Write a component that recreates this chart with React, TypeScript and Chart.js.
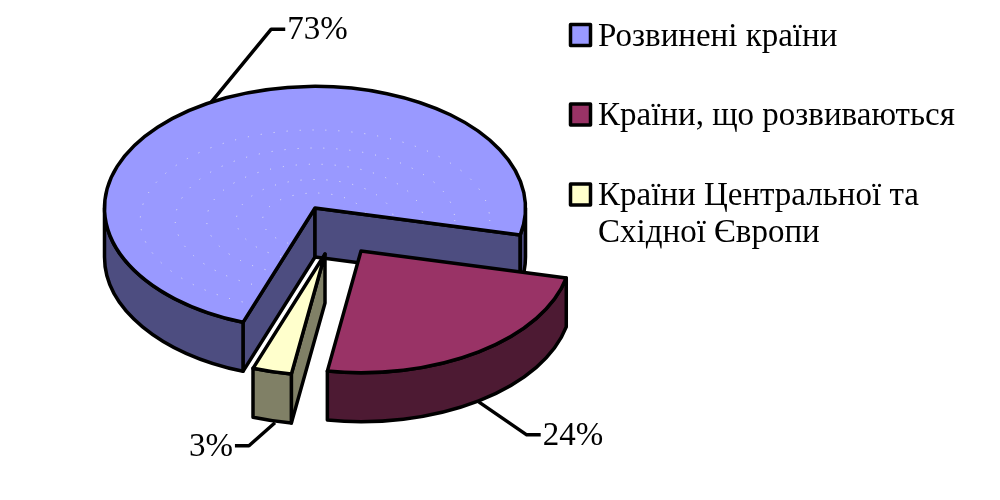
import React, { useEffect, useRef } from "react";
import { Chart, registerables } from "chart.js";

Chart.register(...registerables);

const categories = ["Розвинені країни", "Країни, що розвиваються", "Країни Центральної та Східної Європи"];
const legendLines = [["Розвинені країни"], ["Країни, що розвиваються"], ["Країни Центральної та", "Східної Європи"]];
const shares = [73, 24, 3];
const topColors = ["#9999FF", "#993366", "#FFFFCC"];
const wallColors = ["#4D4D80", "#4D1A33", "#808066"];

// Presentation of the tilted pie
const TILT = 0.578;
const DEPTH = 49;
const TOP_CY = 208;
const STROKE = 3.5;
const FONT = '33px "Liberation Serif"';
const explodeX = [0, 46, 10];
const explodeY = [0, 43, 46];
const anchorNudgeX = [-3, 0, 3];
const anchorNudgeY = [1, 1, 2];
const leaderDX = [60, 48, -26];
const leaderDY = [-73, 33, 23];
const leaderTail = [14, 14, -14];
const ringScale = [1, 0.8, 0.62, 0.45, 0.3];
const legendY = [45.5, 125, 205];

function drawPie(chart: any) {
  const ctx: CanvasRenderingContext2D = chart.ctx;
  const arcs = chart.getDatasetMeta(0).data;
  ctx.save();
  ctx.lineWidth = STROKE;
  ctx.lineJoin = "round";
  ctx.strokeStyle = "#000";

  const geo = (i: number) => {
    const a = arcs[i];
    return {
      x: a.x + explodeX[i],
      y: TOP_CY + explodeY[i],
      rx: a.outerRadius,
      ry: a.outerRadius * TILT,
      s: a.startAngle,
      e: a.endAngle,
    };
  };
  const paint = (fill: string) => {
    ctx.fillStyle = fill;
    ctx.fill();
    ctx.stroke();
  };
  const cutWall = (g: any, ang: number, fill: string) => {
    ctx.beginPath();
    ctx.moveTo(g.x, g.y);
    ctx.lineTo(g.x + g.rx * Math.cos(ang), g.y + g.ry * Math.sin(ang));
    ctx.lineTo(g.x + g.rx * Math.cos(ang), g.y + g.ry * Math.sin(ang) + DEPTH);
    ctx.lineTo(g.x, g.y + DEPTH);
    ctx.closePath();
    paint(fill);
  };

  for (const i of [0, 2, 1]) {
    const g = geo(i);
    // cut faces turned towards the viewer
    if (Math.sin(g.s - Math.PI / 2) > 0) cutWall(g, g.s, wallColors[i]);
    if (Math.sin(g.e + Math.PI / 2) > 0) cutWall(g, g.e, wallColors[i]);
    // outer rim on the front half of the ellipse
    for (let k = 0; k < 3; k++) {
      const a1 = Math.max(g.s, 2 * Math.PI * k);
      const a2 = Math.min(g.e, 2 * Math.PI * k + Math.PI);
      if (a2 <= a1) continue;
      ctx.beginPath();
      ctx.ellipse(g.x, g.y, g.rx, g.ry, 0, a1, a2);
      ctx.ellipse(g.x, g.y + DEPTH, g.rx, g.ry, 0, a2, a1, true);
      ctx.closePath();
      paint(wallColors[i]);
    }
    // top face
    const topPath = () => {
      ctx.beginPath();
      ctx.moveTo(g.x, g.y);
      ctx.ellipse(g.x, g.y, g.rx, g.ry, 0, g.s, g.e);
      ctx.closePath();
    };
    topPath();
    ctx.fillStyle = topColors[i];
    ctx.fill();
    if (i === 0) {
      ctx.save();
      ctx.clip();
      ctx.lineWidth = 1;
      ctx.strokeStyle = "#E6E6F0";
      ctx.setLineDash([1, 12]);
      for (const f of ringScale) {
        ctx.beginPath();
        ctx.ellipse(g.x, g.y + 12, g.rx * 0.83 * f, g.ry * 0.74 * f, 0, 0, Math.PI * 2);
        ctx.stroke();
      }
      ctx.restore();
    }
    topPath();
    ctx.stroke();
  }

  // percentage labels with leader lines
  ctx.font = FONT;
  ctx.fillStyle = "#000";
  ctx.textBaseline = "alphabetic";
  arcs.forEach((_: any, i: number) => {
    const g = geo(i);
    const mid = (g.s + g.e) / 2;
    const sin = Math.sin(mid);
    const ax = g.x + g.rx * Math.cos(mid) + anchorNudgeX[i];
    const ay = g.y + g.ry * sin + (sin > 0 ? DEPTH : 0) + anchorNudgeY[i];
    const bx = ax + leaderDX[i];
    const by = ay + leaderDY[i];
    const cx = bx + leaderTail[i];
    ctx.beginPath();
    ctx.moveTo(ax, ay);
    ctx.lineTo(bx, by);
    ctx.lineTo(cx, by);
    ctx.stroke();
    ctx.textAlign = leaderTail[i] > 0 ? "left" : "right";
    ctx.fillText(`${shares[i]}%`, cx + (leaderTail[i] > 0 ? 2 : -2), by + 10);
  });

  // legend
  ctx.textAlign = "left";
  legendLines.forEach((lines, i) => {
    const y = legendY[i];
    ctx.beginPath();
    ctx.rect(570.5, y - 21, 20, 21);
    ctx.fillStyle = topColors[i];
    ctx.lineWidth = 3.5;
    ctx.fill();
    ctx.stroke();
    ctx.fillStyle = "#000";
    lines.forEach((t, j) => ctx.fillText(t, 598, y + j * 37));
  });
  ctx.restore();
}

const pie3d = {
  id: "pie3d",
  beforeDatasetDraw(chart: any) {
    drawPie(chart);
    return false;
  },
};

export default function App() {
  const ref = useRef<HTMLCanvasElement>(null);
  useEffect(() => {
    document.body.style.margin = "0";
    document.body.style.background = "#fff";
    const chart = new Chart(ref.current!, {
      type: "pie",
      data: {
        labels: categories,
        datasets: [{ data: shares, backgroundColor: topColors, borderWidth: 0 }],
      },
      options: {
        animation: false,
        responsive: false,
        devicePixelRatio: 1,
        rotation: 200,
        layout: { padding: { left: 104.5, right: 474.5, top: 39.5, bottom: 39.5 } },
        plugins: { legend: { display: false }, tooltip: { enabled: false } },
      },
      plugins: [pie3d],
    } as any);
    return () => chart.destroy();
  }, []);
  return <canvas ref={ref} width={1000} height={500} style={{ display: "block" }} />;
}
